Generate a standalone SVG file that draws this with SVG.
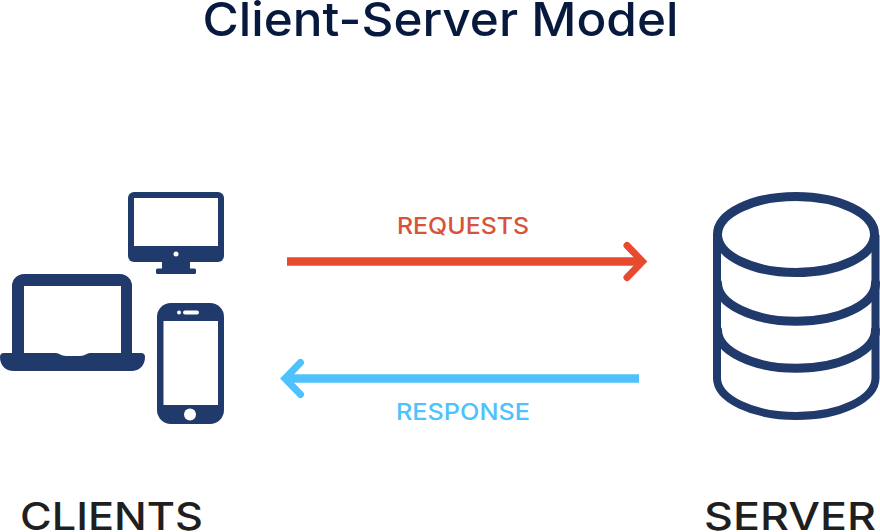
<svg xmlns="http://www.w3.org/2000/svg" width="880" height="532" viewBox="0 0 880 532">
<style>
.t{font-family:Inter,"Liberation Sans",sans-serif}
.d{fill:#203a6c}
.w{fill:#fff}
.s{fill:none;stroke:#203a6c;stroke-width:8}
.a{fill:none;stroke:#203a6c;stroke-width:9;stroke-linecap:round}
.c{fill:none;stroke-width:8.400;stroke-linecap:butt}
.h{fill:none;stroke-width:7;stroke-linecap:round;stroke-linejoin:miter}
</style>
<rect width="880" height="532" fill="#fff"/>
<text id="title" class="t" x="440.500" y="36" font-size="47" font-weight="500" fill="#071a3e" text-anchor="middle" textLength="476" lengthAdjust="spacingAndGlyphs">Client-Server Model</text>
<g id="clients">
<g id="monitor">
<rect class="d" x="128" y="192" width="96" height="70" rx="6"/>
<rect class="w" x="134" y="198" width="84" height="48"/>
<circle class="w" cx="176" cy="254" r="2.500"/>
<rect class="d" x="162" y="261" width="28" height="9"/>
<rect class="d" x="156" y="268.500" width="40" height="5.500" rx="1.500"/>
</g>
<g id="laptop">
<path class="d" d="M12 353V286a12 12 0 0 1 12-12H120a12 12 0 0 1 12 12V353H141a4 4 0 0 1 4 4c0 8-5 14-14 14H14C5 371 0 365 0 357a4 4 0 0 1 4-4Z"/>
<path class="w" d="M24 286H121V353H90c-3 0-5 3-10 3H66c-5 0-7-3-10-3H24Z"/>
</g>
<g id="phone">
<rect class="d" x="157" y="303" width="67" height="121" rx="14"/>
<rect class="w" x="163.500" y="321" width="54.500" height="84"/>
<circle class="w" cx="190" cy="414.500" r="6"/>
<circle class="w" cx="179" cy="312.500" r="2"/>
<rect class="w" x="183" y="310.500" width="16" height="4" rx="2"/>
</g>
<text class="t" x="111.500" y="529.500" font-size="38" font-weight="500" fill="#1f1f1f" text-anchor="middle" textLength="183" lengthAdjust="spacingAndGlyphs">CLIENTS</text>
</g>
<g id="server">
<path class="s" d="M717 235V378C717 399 753 416 796.500 416S875.500 399 875.500 378V235"/>
<ellipse class="a" cx="796" cy="234.500" rx="78.500" ry="38"/>
<path class="a" d="M717.500 283A78.500 38 0 0 0 875.500 283"/>
<path class="a" d="M717.500 330A78.500 38 0 0 0 875.500 330"/>
<text class="t" x="790" y="529.500" font-size="38" font-weight="500" fill="#1f1f1f" text-anchor="middle" textLength="172" lengthAdjust="spacingAndGlyphs">SERVER</text>
</g>
<g id="connectors">
<g id="requests">
<path class="c" stroke="#e84a2f" d="M287 261.500H640"/>
<path class="h" stroke="#e84a2f" d="M627 245.500L642.500 261.500L627 277.500"/>
<text class="t" x="463" y="234" font-size="23" font-weight="500" fill="#d9533c" text-anchor="middle" textLength="132" lengthAdjust="spacingAndGlyphs">REQUESTS</text>
</g>
<g id="response">
<path class="c" stroke="#4fc1fb" d="M639 378.500H288"/>
<path class="h" stroke="#4fc1fb" d="M300.500 362.500L285 378.500L300.500 394.500"/>
<text class="t" x="463" y="420" font-size="23" font-weight="500" fill="#4fc1fb" text-anchor="middle" textLength="134" lengthAdjust="spacingAndGlyphs">RESPONSE</text>
</g>
</g>
</svg>
